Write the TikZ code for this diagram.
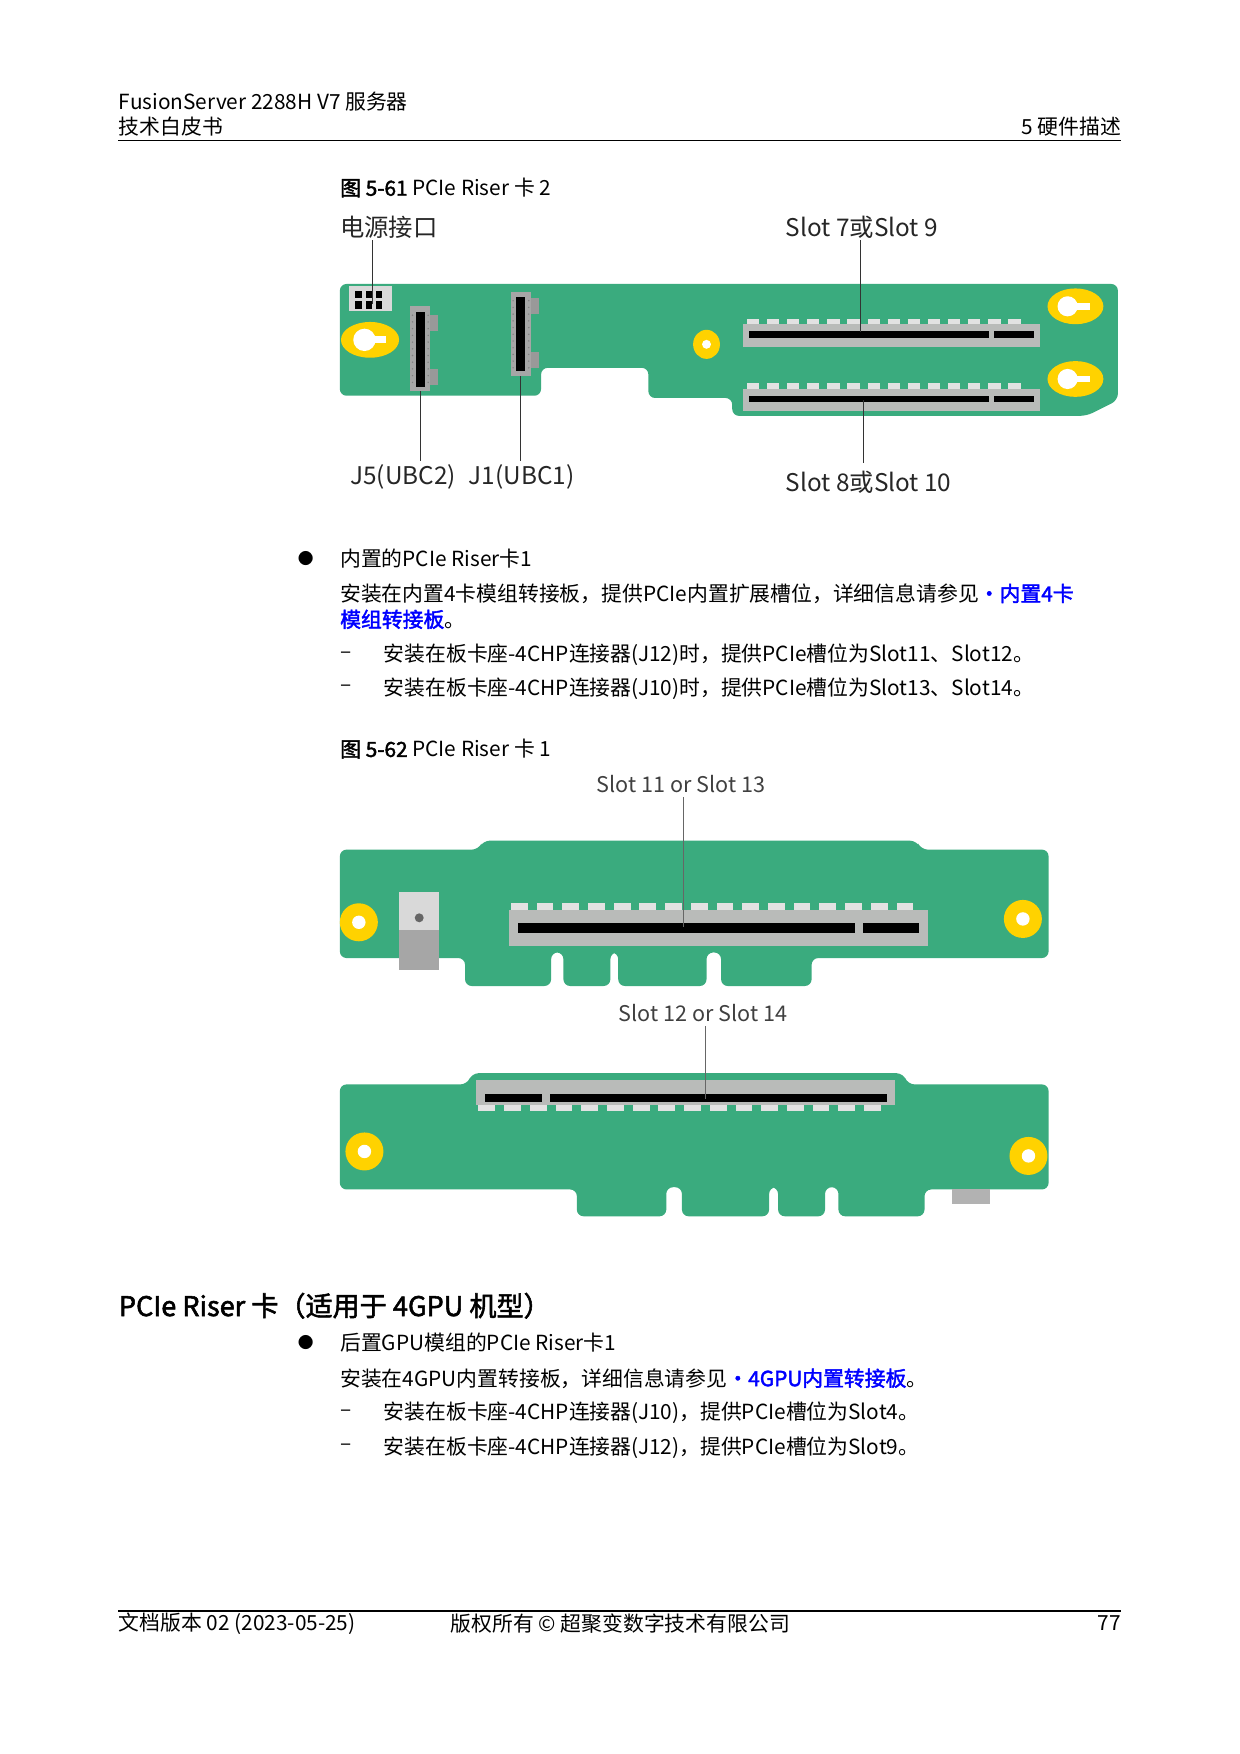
\documentclass[tikz,border=0pt]{standalone}
\usepackage{fontspec}
\setmainfont{Noto Sans CJK SC}[BoldFont={Noto Sans CJK SC},BoldFeatures={FakeBold=2}]
\newcommand\fz[1]{\fontsize{#1}{#1}\selectfont}
\definecolor{pcb}{HTML}{3AAB7E}
\definecolor{hole}{HTML}{FFD200}
\definecolor{slotg}{HTML}{B9BBB9}
\definecolor{dashg}{HTML}{E2E2E2}
\definecolor{lnk}{HTML}{0000FF}
\begin{document}
\begin{tikzpicture}[x=0.02cm,y=-0.02cm,
  txt/.style={inner sep=0pt,anchor=west,font=\fz{10.6pt}},
  lbl/.style={inner sep=0pt,font=\fz{12.4pt},text=black!85},
  lbl2/.style={inner sep=0pt,font=\fz{11pt},text=black!75},
  lead/.style={draw=black!80,line width=0.5pt},
  board/.style={fill=pcb,draw=none,rounded corners=0.12cm},
  ring/.style={fill=hole,draw=none}]
\useasboundingbox (0,0) rectangle (1109,1569);
% header
\node[txt,anchor=west] (h1) at (106,91) {FusionServer 2288H V7 服务器};
\node[txt] (h2) at (106,113) {技术白皮书};
\node[txt,anchor=east] (h3) at (1003,113) {5 硬件描述};
\draw[line width=0.6pt] (106,126) -- (1003,126);
\node[txt] (cap1) at (304,168) {\textbf{图 5-61} PCIe Riser 卡 2};
% ---------- figure 1 ----------
\fill[board] (304,254) -- (1000,254) -- (1000,358) -- (972,372) -- (655,372) -- (655,356) -- (580,356) -- (580,329) -- (484,329) -- (484,354) -- (304,354) -- cycle;
% left keyhole
\fill[ring] (331,304) ellipse (26 and 16);
\fill[white] (326,304) circle (10); \fill[white] (326,301) rectangle (345,307);
% power connector
\fill[black!15] (312,256) rectangle (351,278);
\foreach \i in {0,1,2}{\fill[black] (318+\i*9,260) rectangle (324+\i*9,267); \fill[black] (318+\i*9,269) rectangle (324+\i*9,276);}
% J5
\fill[black!40] (372,282) rectangle (392,296); \fill[black!40] (372,330) rectangle (392,344);
\fill[black!35] (367,274) rectangle (385,350); \fill[black] (372,279) rectangle (380,346);
\foreach \y in {282,288,...,342}{\fill[black!50] (369,\y) circle (0.7); \fill[black!50] (383,\y) circle (0.7);}
% J1
\fill[black!40] (462,267) rectangle (482,281); \fill[black!40] (462,315) rectangle (482,329);
\fill[black!35] (457,261) rectangle (475,336); \fill[black] (462,266) rectangle (470,332);
\foreach \y in {269,275,...,329}{\fill[black!50] (459,\y) circle (0.7); \fill[black!50] (473,\y) circle (0.7);}
% small hole
\fill[ring] (632,308) ellipse (12 and 13); \fill[white] (632,308) circle (4);
% slots 7 / 8
\foreach \yy in {285,343}{
  \fill[slotg] (665,\yy+5) rectangle (930,\yy+25);
  \foreach \xx in {668,686,...,918}{\fill[dashg] (\xx,\yy) rectangle (\xx+11,\yy+5);}
  \fill[black] (670,\yy+11) rectangle (885,\yy+17);
  \fill[black] (889,\yy+11) rectangle (925,\yy+17);
}
% right keyholes
\foreach \yy in {274,339}{
  \fill[ring] (962,\yy) ellipse (25 and 16);
  \fill[white] (955,\yy) circle (9); \fill[white] (955,\yy-3) rectangle (975,\yy+3);
}
% labels fig 1
\node[lbl,anchor=west] (pw) at (304,203) {电源接口};
\node[lbl] (s79) at (771,203) {Slot 7或Slot 9};
\node[lbl,anchor=west] (j5) at (313,427) {J5(UBC2)};
\node[lbl,anchor=west] (j1) at (419,427) {J1(UBC1)};
\node[lbl] (s810) at (777,431) {Slot 8或Slot 10};
\coordinate (pwE) at (333,272); \coordinate (s79E) at (770,297);
\coordinate (j5E) at (376,350); \coordinate (j1E) at (466,336); \coordinate (s810E) at (772,358);
\draw[lead] (333,215) -- (pwE);
\draw[lead] (770,215) -- (s79E);
\draw[lead] (376,412) -- (j5E);
\draw[lead] (466,412) -- (j1E);
\draw[lead] (772,414) -- (s810E);
% ---------- text block ----------
\node[txt,font=\fz{8pt}] (b1) at (266,500) {●};
\node[txt] (t1) at (304,500) {内置的PCIe Riser卡1};
\node[txt] (t2) at (304,531) {安装在内置4卡模组转接板，提供PCIe内置扩展槽位，详细信息请参见\textcolor{lnk}{\textbf{•内置4卡}}};
\node[txt] (t3) at (304,554) {\textcolor{lnk}{\textbf{模组转接板}}。};
\node[txt] (d1) at (304,586) {–};
\node[txt] (t4) at (343,586) {安装在板卡座-4CHP连接器(J12)时，提供PCIe槽位为Slot11、Slot12。};
\node[txt] (d2) at (304,616) {–};
\node[txt] (t5) at (343,616) {安装在板卡座-4CHP连接器(J10)时，提供PCIe槽位为Slot13、Slot14。};
\node[txt] (cap2) at (304,670) {\textbf{图 5-62} PCIe Riser 卡 1};
% ---------- figure 2, board A ----------
\fill[board] (304,760) -- (428,760) -- (432,752) -- (820,752) -- (824,760) -- (938,760) -- (938,857) -- (726,857) -- (726,882) -- (645,882) -- (645,852) -- (632,852) -- (632,882) -- (553,882) -- (553,852) -- (546,852) -- (546,882) -- (504,882) -- (504,852) -- (493,852) -- (493,882) -- (416,882) -- (416,857) -- (304,857) -- cycle;
\fill[ring] (321,825) ellipse (17 and 17); \fill[white] (321,825) circle (6);
\fill[ring] (915,822) ellipse (17 and 17); \fill[white] (915,822) circle (6);
\fill[black!15] (357,798) rectangle (393,832); \fill[black!60] (375,821) circle (4);
\fill[black!35] (357,832) rectangle (393,868);
\fill[slotg] (455,814) rectangle (830,846);
\foreach \xx in {457,480,...,815}{\fill[dashg] (\xx,808) rectangle (\xx+15,814);}
\fill[black] (463,826) rectangle (765,835);
\fill[black] (772,826) rectangle (822,835);
\node[lbl2] (s1113) at (609,701) {Slot 11 or Slot 13};
\coordinate (s1113E) at (611,829);
\draw[lead,draw=black!60] (611,713) -- (s1113E);
% board B
\fill[board] (304,970) -- (418,970) -- (422,960) -- (808,960) -- (812,970) -- (938,970) -- (938,1064) -- (827,1064) -- (827,1088) -- (750,1088) -- (750,1062) -- (738,1062) -- (738,1088) -- (696,1088) -- (696,1062) -- (688,1062) -- (688,1088) -- (610,1088) -- (610,1062) -- (596,1062) -- (596,1088) -- (516,1088) -- (516,1064) -- (304,1064) -- cycle;
\fill[ring] (326,1030) ellipse (17 and 17); \fill[white] (326,1030) circle (6);
\fill[ring] (920,1034) ellipse (17 and 17); \fill[white] (920,1034) circle (6);
\fill[black!30] (852,1064) rectangle (886,1077);
\fill[slotg] (426,966) rectangle (801,988);
\foreach \xx in {428,451,...,786}{\fill[dashg] (\xx,988) rectangle (\xx+15,994);}
\fill[black] (434,979) rectangle (485,986);
\fill[black] (492,979) rectangle (793,986);
\node[lbl2] (s1214) at (629,906) {Slot 12 or Slot 14};
\coordinate (s1214E) at (631,983);
\draw[lead,draw=black!60] (631,918) -- (s1214E);
% ---------- section ----------
\node[txt,font=\fz{13.8pt}\bfseries] (sec) at (106,1168) {PCIe Riser 卡（适用于 4GPU 机型）};
\node[txt,font=\fz{8pt}] (b2) at (266,1201) {●};
\node[txt] (u1) at (304,1201) {后置GPU模组的PCIe Riser卡1};
\node[txt] (u2) at (304,1233) {安装在4GPU内置转接板，详细信息请参见\textcolor{lnk}{\textbf{•4GPU内置转接板}}。};
\node[txt] (d3) at (304,1264) {–};
\node[txt] (u3) at (343,1264) {安装在板卡座-4CHP连接器(J10)，提供PCIe槽位为Slot4。};
\node[txt] (d4) at (304,1295) {–};
\node[txt] (u4) at (343,1295) {安装在板卡座-4CHP连接器(J12)，提供PCIe槽位为Slot9。};
% footer
\draw[line width=0.6pt] (106,1441) -- (1003,1441);
\node[txt] (f1) at (106,1452) {文档版本 02 (2023-05-25)};
\node[txt] (f2) at (403,1452) {版权所有 © 超聚变数字技术有限公司};
\node[txt,anchor=east] (f3) at (1003,1452) {77};
\end{tikzpicture}
\end{document}
